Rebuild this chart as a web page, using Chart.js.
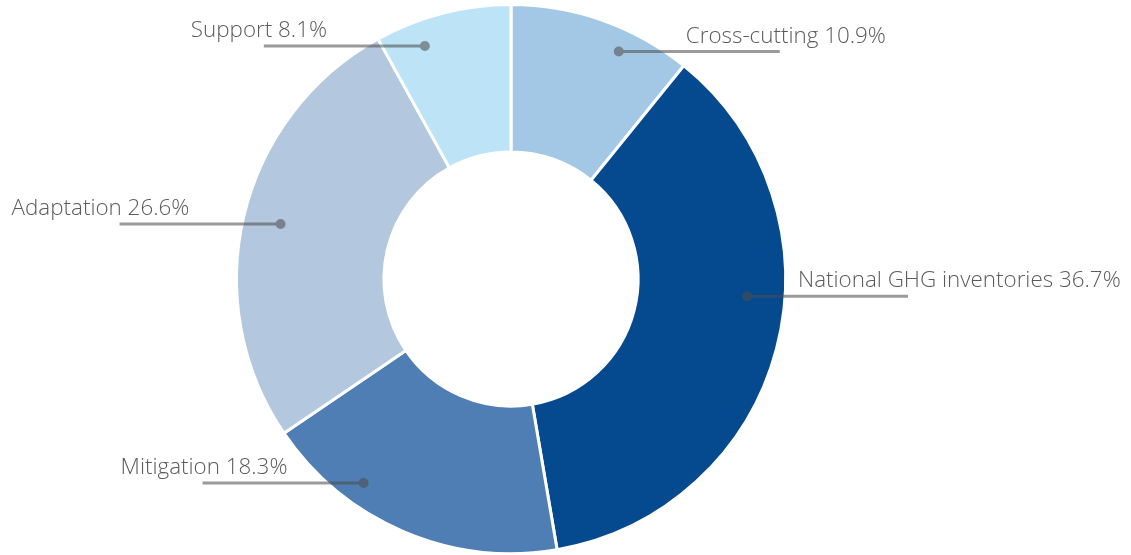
<!DOCTYPE html>
<html>
<head>
<meta charset="utf-8">
<script src="https://cdn.jsdelivr.net/npm/chart.js@4.4.1/dist/chart.umd.min.js"></script>
<style>
  html,body{margin:0;padding:0;background:#fff;}
  #wrap{width:1131px;height:555px;position:relative;}
</style>
</head>
<body>
<div id="wrap"><canvas id="donut"></canvas></div>
<script>
const categories=['Cross-cutting','National GHG inventories','Mitigation','Adaptation','Support'];
const shares=[10.9,36.7,18.3,26.6,8.1];
const colors=['#a3c8e5','#05498f','#4e7eb3','#b3c8df','#bde4f6'];

// where each leader dot sits: fraction along the slice, fraction of outer radius, text offset from dot, side
const callouts=[
  {f:0.65,r:0.917,tx:67,side:1},
  {f:0.42,r:0.862,tx:51,side:1},
  {f:0.695,r:0.917,tx:-243,side:-1},
  {f:0.50,r:0.863,tx:-269,side:-1},
  {f:0.30,r:0.905,tx:-234,side:-1}
];

const leaderPlugin={
  id:'leaders',
  afterDatasetsDraw(chart){
    const ctx=chart.ctx; const meta=chart.getDatasetMeta(0);
    ctx.save();
    meta.data.forEach((arc,i)=>{
      const c=callouts[i];
      const p=arc.getProps(['x','y','startAngle','endAngle','outerRadius'],true);
      const a=p.startAngle+c.f*(p.endAngle-p.startAngle);
      const dx=p.x+Math.cos(a)*p.outerRadius*c.r, dy=p.y+Math.sin(a)*p.outerRadius*c.r;
      const ex=dx+c.side*161;
      ctx.beginPath();
      ctx.rect(Math.min(dx,ex),dy-1.5,Math.abs(ex-dx),3);
      ctx.moveTo(dx+5,dy); ctx.arc(dx,dy,5,0,Math.PI*2);
      ctx.fillStyle='rgba(77,77,77,0.57)';
      ctx.fill('nonzero');
      ctx.font='300 22.4px "Open Sans"';
      ctx.fillStyle='#5b5b5b';
      ctx.textBaseline='alphabetic'; ctx.textAlign='left';
      ctx.fillText(categories[i]+' '+shares[i]+'%',dx+c.tx,dy-9);
    });
    ctx.restore();
  }
};

new Chart(document.getElementById('donut'),{
  type:'doughnut',
  data:{labels:categories,datasets:[{data:shares,backgroundColor:colors,borderColor:'#ffffff',borderWidth:3,hoverOffset:0}]},
  options:{
    responsive:true,maintainAspectRatio:false,animation:false,
    cutout:'46.3%',
    layout:{padding:{left:0,right:109,top:3,bottom:-3}},
    plugins:{legend:{display:false},tooltip:{enabled:false}}
  },
  plugins:[leaderPlugin]
});
</script>
</body>
</html>
